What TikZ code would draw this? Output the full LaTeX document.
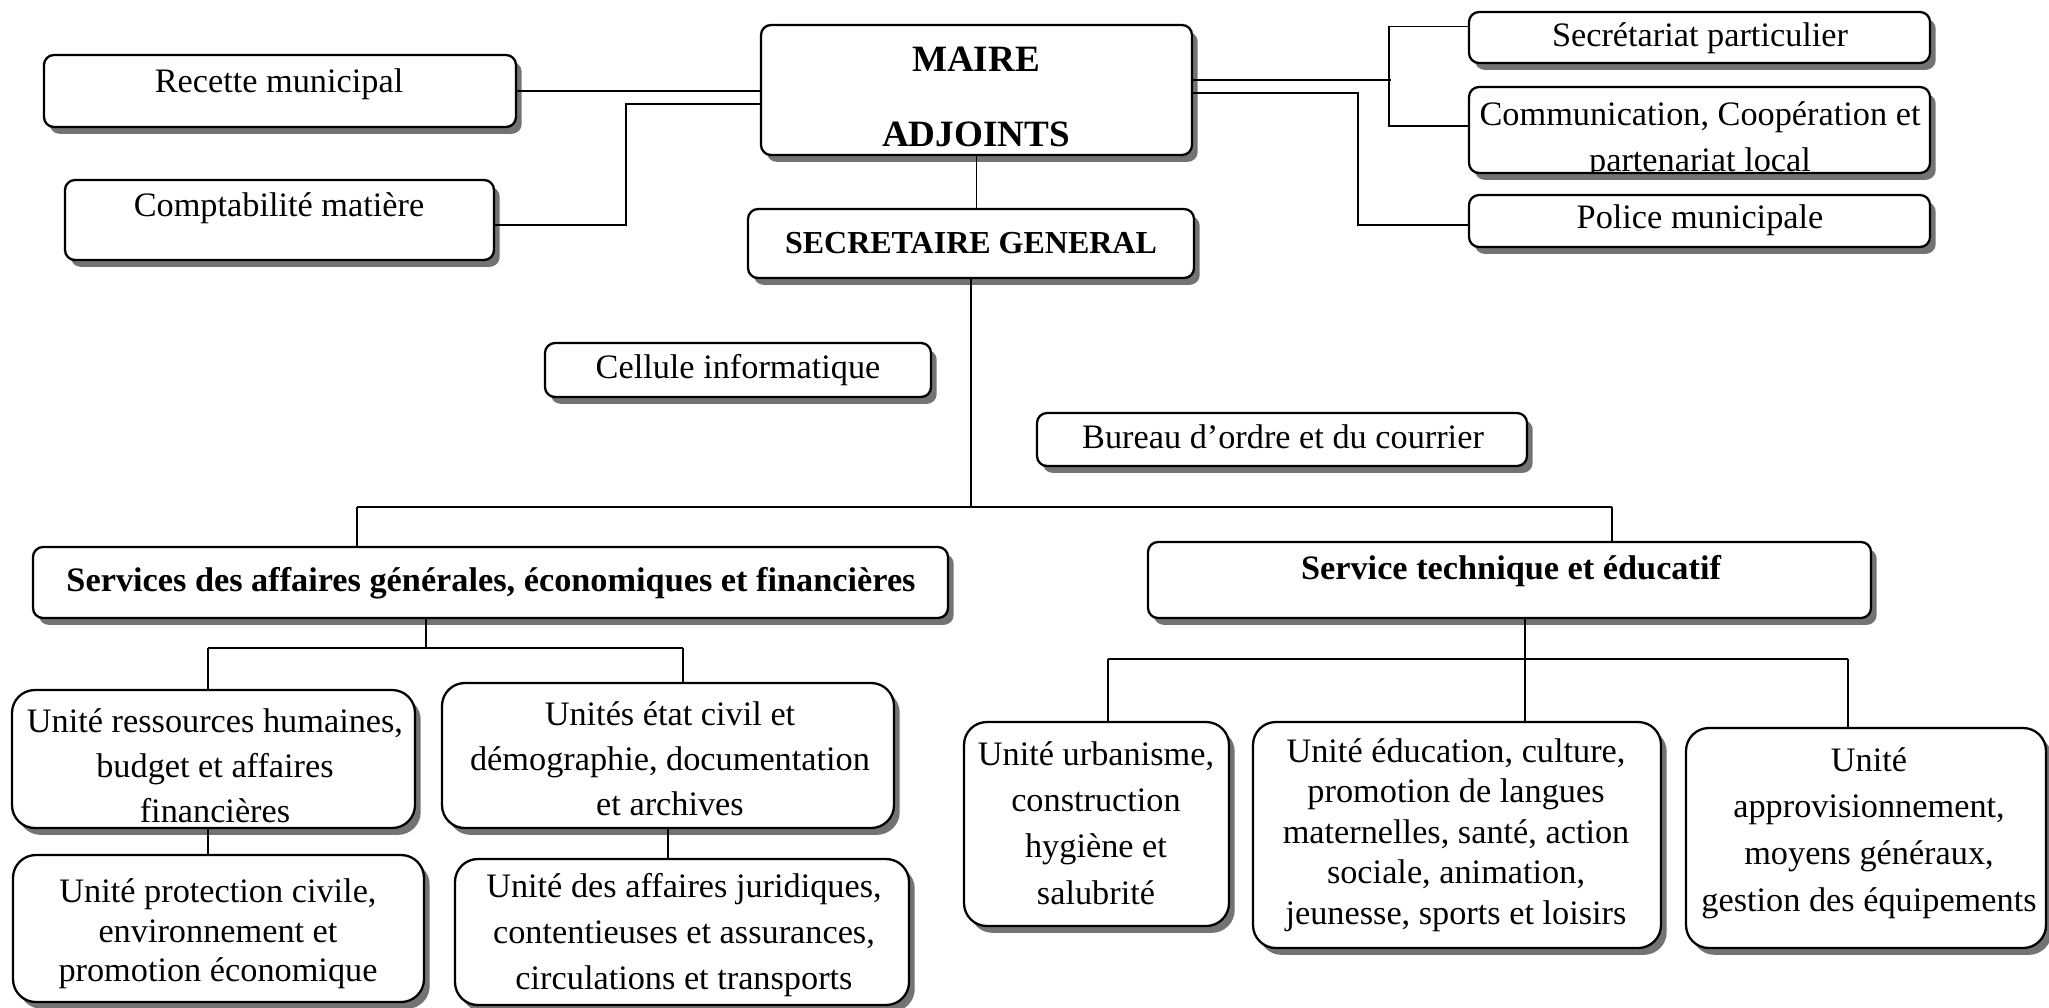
\documentclass[tikz,border=0pt]{standalone}
\usepackage{fontspec}
\setmainfont{Liberation Serif}
\usetikzlibrary{shadows,calc}
\tikzset{
 box/.style={draw=black, line width=0.8pt, fill=white, rounded corners=3.5pt, inner sep=0pt,
   drop shadow={shadow xshift=2pt, shadow yshift=-2.4pt, fill=black!55, opacity=1}},
 bigbox/.style={box, rounded corners=8pt},
 txt/.style={inner sep=0pt, align=center, font=\fontsize{12}{15.75}\selectfont},
 btxt/.style={inner sep=0pt, align=center, font=\fontsize{12}{15}\selectfont\bfseries},
 conn/.style={draw=black, line width=0.5pt},
 connb/.style={draw=black, line width=0.7pt},
}
\newcommand{\bx}[6]{\node[#6, minimum width={(#4-#2)*0.35pt}, minimum height={(#5-#3)*0.35pt}] (#1) at ({(#2+#4)/2},{(#3+#5)/2}) {};}
\begin{document}
\begin{tikzpicture}[x=0.35pt, y=-0.35pt]
\useasboundingbox (0,0) rectangle (2049,1007);
% boxes
\bx{rec}{44}{55}{516}{127}{box}
\bx{comp}{65}{180}{494}{260}{box}
\bx{maire}{761}{25}{1192}{155}{box}
\bx{sg}{748}{209}{1194}{278}{box}
\bx{secp}{1469}{12}{1930}{63}{box}
\bx{comm}{1469}{87}{1930}{173}{box}
\bx{pol}{1469}{195}{1930}{247}{box}
\bx{cel}{545}{343}{931}{397}{box}
\bx{bur}{1037}{413}{1527}{466}{box}
\bx{saf}{33}{547}{948}{618}{box}
\bx{stec}{1148}{542}{1871}{618}{box}
\bx{rh}{12}{690}{415}{828}{bigbox}
\bx{etc}{442}{683}{894}{828}{bigbox}
\bx{prot}{13}{855}{424}{1002}{bigbox}
\bx{jur}{455}{859}{909}{1005}{bigbox}
\bx{urb}{964}{722}{1229}{926}{bigbox}
\bx{edu}{1253}{722}{1661}{948}{bigbox}
\bx{app}{1686}{728}{2046}{948}{bigbox}
% texts
\node[txt] (recT) at (279,84) {Recette municipal};
\node[txt] (compT) at (279,208) {Comptabilité matière};
\node[btxt, font=\fontsize{13}{26}\selectfont\bfseries] (maireT) at (976,97) {MAIRE\\ADJOINTS};
\node[btxt, font=\fontsize{11.2}{14}\selectfont\bfseries] (sgT) at (971,243) {SECRETAIRE GENERAL};
\node[txt] (secpT) at (1700,38) {Secrétariat particulier};
\begin{scope}
\clip (1469,87) rectangle (1930,171);
\node[txt, font=\fontsize{12}{16.1}\selectfont] (commT) at (1700,140) {Communication, Coopération et\\partenariat local};
\end{scope}
\node[txt] (polT) at (1700,220) {Police municipale};
\node[txt] (celT) at (738,370) {Cellule informatique};
\node[txt] (burT) at (1283,437) {Bureau d’ordre et du courrier};
\node[btxt] (safT) at (491,583) {Services des affaires générales, économiques et financières};
\node[btxt] (stecT) at (1511,571) {Service technique et éducatif};
\node[txt] (rhT) at (215,766) {Unité ressources humaines,\\budget et affaires\\financières};
\node[txt] (etcT) at (670,759) {Unités état civil et\\démographie, documentation\\et archives};
\node[txt, font=\fontsize{12}{13.8}\selectfont] (protT) at (218,934) {Unité protection civile,\\environnement et\\promotion économique};
\node[txt, font=\fontsize{12}{16.1}\selectfont] (jurT) at (684,935) {Unité des affaires juridiques,\\contentieuses et assurances,\\circulations et transports};
\node[txt, font=\fontsize{12}{16.2}\selectfont] (urbT) at (1096,823) {Unité urbanisme,\\construction\\hygiène et\\salubrité};
\node[txt, font=\fontsize{12}{14.2}\selectfont] (eduT) at (1456,835) {Unité éducation, culture,\\promotion de langues\\maternelles, santé, action\\sociale, animation,\\jeunesse, sports et loisirs};
\node[txt, font=\fontsize{12}{16.3}\selectfont] (appT) at (1869,833) {Unité\\approvisionnement,\\moyens généraux,\\gestion des équipements};
% connectors top
\draw[conn] (rec.east) -- (rec.east -| maire.west);
\draw[connb] ($(maire.west)+(0,14)$) -- ++(-134,0) |- ($(comp.east)+(0,5)$);
\draw[conn] (maire.south) -- (maire.south |- sg.north);
\draw[conn] ($(maire.east)+(0,-10)$) -- ++(198,0);
\draw[conn] ($(secp.west)+(0,-11)$) -- ++(-79,0) |- ($(comm.west)+(0,-4)$);
\draw[conn] ($(maire.east)+(0,3)$) -- ++(165,0) |- ($(pol.west)+(0,4)$);
% bus under SG
\coordinate (busL) at (357,507);
\coordinate (busR) at (1612,507);
\draw[conn] (sg.south) -- (sg.south |- busL);
\draw[connb] (busL) -- (busR);
\draw[conn] (busL) -- (busL |- saf.north);
\draw[conn] (busR) -- (busR |- stec.north);
% left service
\coordinate (b2L) at (208,648);
\coordinate (b2M) at (426,648);
\coordinate (b2R) at (683,648);
\draw[conn] (b2M |- saf.south) -- (b2M);
\draw[conn] (b2L) -- (b2R);
\draw[conn] (b2L) -- (b2L |- rh.north);
\draw[conn] (b2R) -- (b2R |- etc.north);
\draw[conn] (b2L |- rh.south) -- (b2L |- prot.north);
\draw[conn] (etc.south) -- (etc.south |- jur.north);
% right service
\coordinate (b3L) at (1108,659);
\coordinate (b3M) at (1525,659);
\coordinate (b3R) at (1848,659);
\draw[conn] (b3M |- stec.south) -- (b3M |- edu.north);
\draw[connb] (b3L) -- (b3R);
\draw[conn] (b3L) -- (b3L |- urb.north);
\draw[conn] (b3R) -- (b3R |- app.north);
\end{tikzpicture}
\end{document}
